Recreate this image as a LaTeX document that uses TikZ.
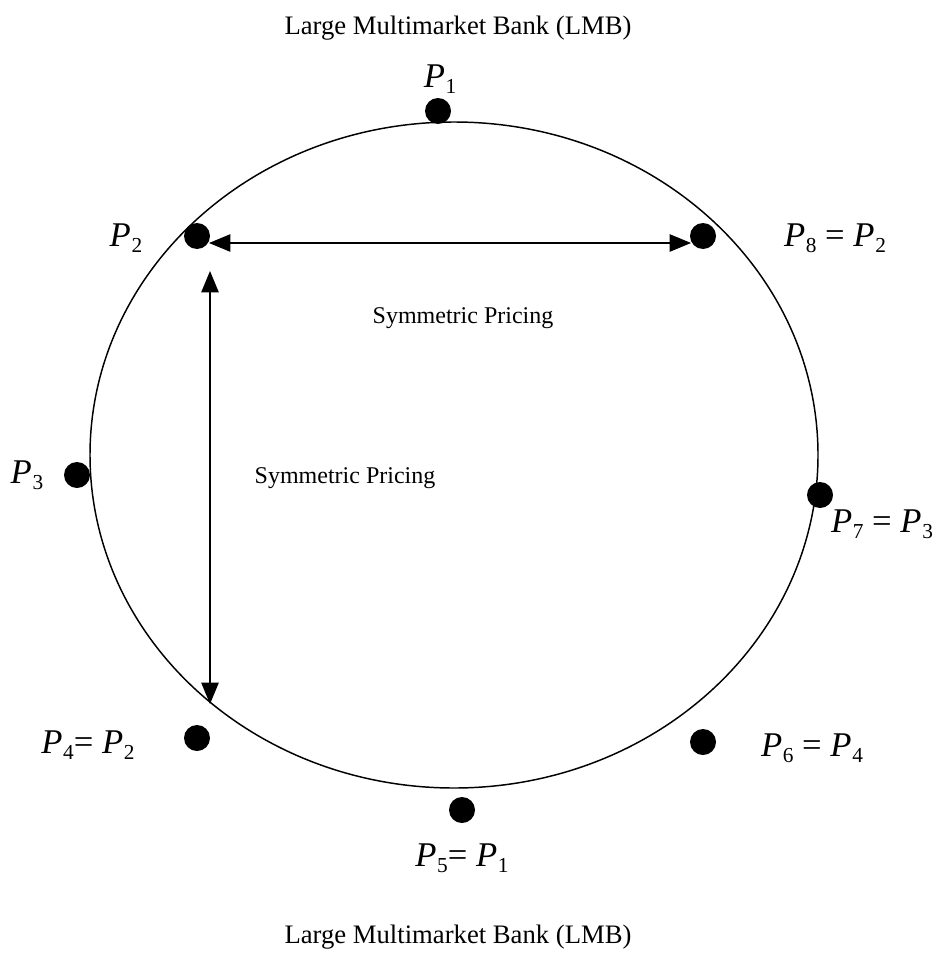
\documentclass[tikz,border=0pt]{standalone}
\usepackage{fontspec}
\setmainfont{Liberation Serif}
\usetikzlibrary{arrows.meta}

\newcommand{\Pvar}[1]{\textit{P}\kern0.5pt\raisebox{-0.4ex}{\fontsize{16}{16}\selectfont #1}}

\tikzset{every picture/.style={line width=0.75pt}}
\tikzset{
  dotmark/.style={circle, fill=black, inner sep=0pt, minimum size=19.5pt},
  plabel/.style={inner sep=0.75pt, font=\fontsize{26}{30}\selectfont},
  txtlabel/.style={inner sep=0.75pt, font=\fontsize{18}{21}\selectfont},
  banklabel/.style={inner sep=0.75pt, font=\fontsize{20}{24}\selectfont},
  pricearrow/.style={line width=1.1pt, {Triangle[length=16pt,width=13pt]}-{Triangle[length=16pt,width=13pt]}}
}

\begin{document}
\begin{tikzpicture}[x=0.75pt,y=0.75pt,yscale=-1,xscale=1]
\useasboundingbox (0,0) rectangle (940,956);

%Shape: Ellipse
\draw [line width=1.1pt] (454,455) ellipse [x radius=364, y radius=333];

%Shape: Circle (dots)
\node [dotmark] (d1) at (438,111) {};
\node [dotmark] (d2) at (197,236) {};
\node [dotmark] (d8) at (703,236) {};
\node [dotmark] (d3) at (77,475) {};
\node [dotmark] (d7) at (820,495) {};
\node [dotmark] (d4) at (197,738) {};
\node [dotmark] (d6) at (703,742) {};
\node [dotmark] (d5) at (462,810) {};

%Straight Lines
\coordinate (hleft) at (209,243);
\coordinate (hright) at (691,243);
\draw [pricearrow] (hleft) -- (hright);
%Straight Lines
\coordinate (vtop) at (210,271);
\coordinate (vbottom) at (210,704);
\draw [pricearrow] (vtop) -- (vbottom);

% Text Node
\node [banklabel] (lmbtop) at (458,28) {Large Multimarket Bank (LMB)};
% Text Node
\node [banklabel] (lmbbottom) at (458,937) {Large Multimarket Bank (LMB)};
% Text Node
\node [txtlabel] (sym1) at (463,318) {Symmetric Pricing};
% Text Node
\node [txtlabel] (sym2) at (345,478) {Symmetric Pricing};

% Text Node
\node [plabel] (p1) at (440,79) {\Pvar{1}};
% Text Node
\node [plabel] (p2) at (126,238) {\Pvar{2}};
% Text Node
\node [plabel] (p8) at (835,238) {\Pvar{8} = \Pvar{2}};
% Text Node
\node [plabel] (p3) at (27,475) {\Pvar{3}};
% Text Node
\node [plabel] (p7) at (882,524) {\Pvar{7} = \Pvar{3}};
% Text Node
\node [plabel] (p4) at (88,745) {\Pvar{4}= \Pvar{2}};
% Text Node
\node [plabel] (p6) at (812,748) {\Pvar{6} = \Pvar{4}};
% Text Node
\node [plabel] (p5) at (462,858) {\Pvar{5}= \Pvar{1}};

\end{tikzpicture}
\end{document}
